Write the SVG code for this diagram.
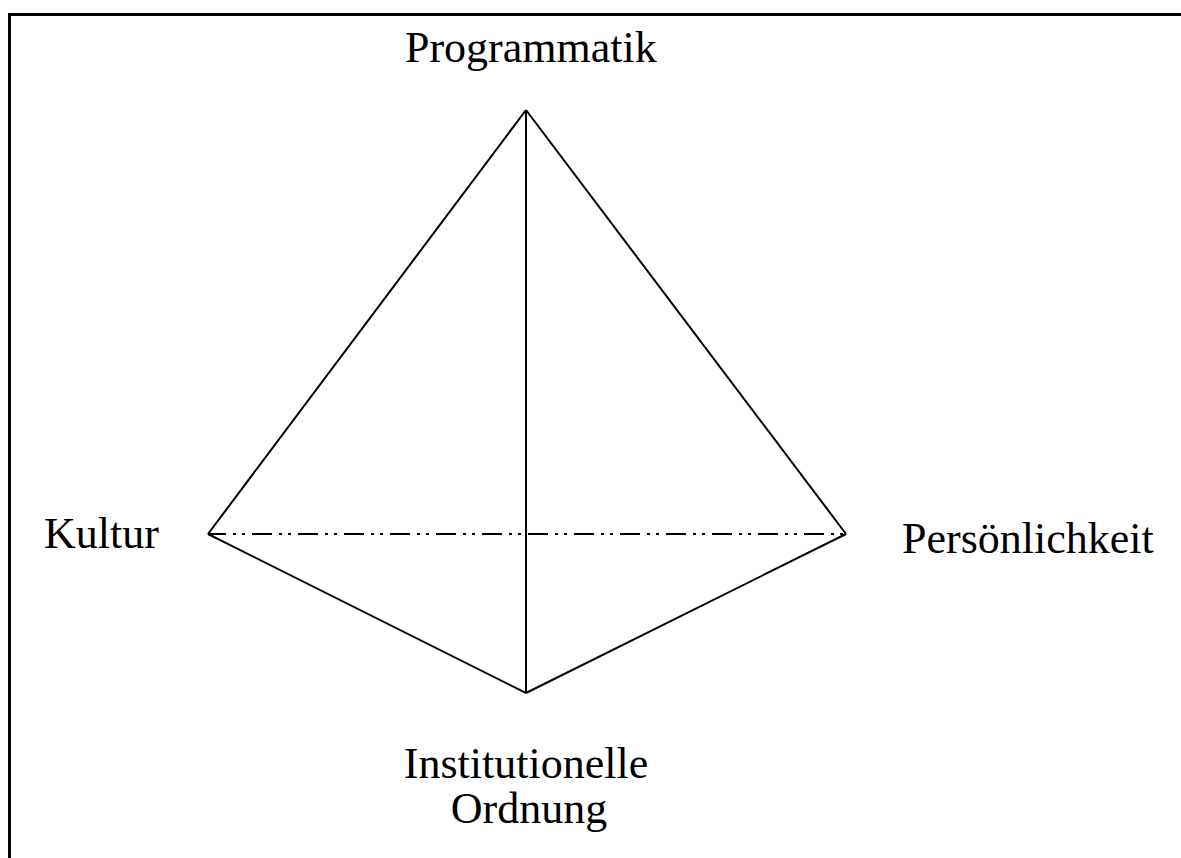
<svg xmlns="http://www.w3.org/2000/svg" width="1181" height="858" viewBox="0 0 1181 858">
<style>
.lbl{font-family:"Liberation Serif","Times New Roman",serif;font-size:44px;fill:#000}
.edge{stroke:#000;stroke-width:2;fill:none}
.hidden{stroke:#000;stroke-width:2;fill:none;stroke-dasharray:20 7 3 6 3 7;stroke-dashoffset:2}
</style>
<rect width="1181" height="858" fill="#fff"/>
<path d="M9.5,858 V14.5 H1181" fill="none" stroke="#000" stroke-width="3"/>
<g id="connectors">
<line class="edge" x1="526" y1="110" x2="208" y2="534"/>
<line class="edge" x1="526" y1="110" x2="846" y2="534"/>
<line class="edge" x1="526" y1="110" x2="526" y2="693"/>
<line class="edge" x1="208" y1="534" x2="526" y2="693"/>
<line class="edge" x1="846" y1="534" x2="526" y2="693"/>
<line class="hidden" x1="208" y1="534" x2="846" y2="534"/>
</g>
<g id="programmatik"><text class="lbl" x="405" y="62">Programmatik</text></g>
<g id="kultur"><text class="lbl" x="44" y="548">Kultur</text></g>
<g id="persoenlichkeit"><text class="lbl" x="902" y="553">Persönlichkeit</text></g>
<g id="institutionelle-ordnung"><text class="lbl" x="526" y="778" text-anchor="middle">Institutionelle</text><text class="lbl" x="529" y="823" text-anchor="middle">Ordnung</text></g>
</svg>
